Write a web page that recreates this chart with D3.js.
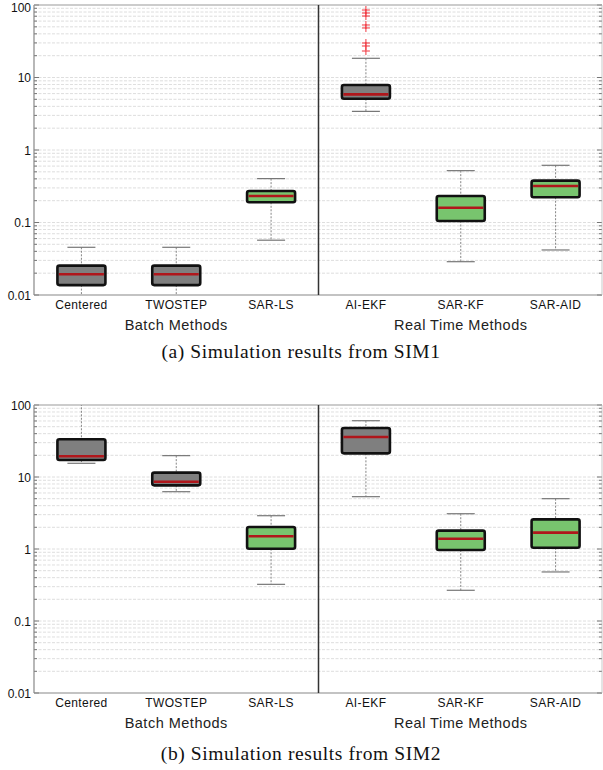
<!DOCTYPE html>
<html>
<head>
<meta charset="utf-8">
<script src="https://cdn.jsdelivr.net/npm/d3@7"></script>
<style>
  html, body { margin: 0; padding: 0; background: #fff; }
  svg { display: block; }
</style>
</head>
<body>
<svg id="chart" width="603" height="770"></svg>
<script>
// Methods, grouped into batch and real-time estimators
const categories = ["Centered", "TWOSTEP", "SAR-LS", "AI-EKF", "SAR-KF", "SAR-AID"];
const groups = ["Batch Methods", "Real Time Methods"];
const groupOf = [0, 0, 0, 1, 1, 1];
const isSAR = [false, false, true, false, true, true];
const yTicks = [0.01, 0.1, 1, 10, 100];
const yTickLabels = ["0.01", "0.1", "1", "10", "100"];

// SIM1 box statistics per method
const sim1Low    = [0.008, 0.008, 0.057, 3.41, 0.0288, 0.0418];
const sim1Q1     = [0.0137, 0.0137, 0.19, 5.1, 0.105, 0.223];
const sim1Median = [0.0193, 0.0193, 0.232, 5.86, 0.16, 0.319];
const sim1Q3     = [0.0254, 0.0254, 0.272, 7.88, 0.232, 0.378];
const sim1High   = [0.0455, 0.0455, 0.403, 18.4, 0.519, 0.615];
// SIM1 outliers (AI-EKF only)
const sim1OutlierCat = ["AI-EKF", "AI-EKF", "AI-EKF", "AI-EKF", "AI-EKF", "AI-EKF", "AI-EKF", "AI-EKF"];
const sim1OutlierVal = [85.3, 77.5, 70.5, 53, 48.2, 29.9, 27.2, 23.2];

// SIM2 box statistics per method
const sim2Low    = [15.5, 6.25, 0.323, 5.33, 0.267, 0.48];
const sim2Q1     = [17.2, 7.66, 1.01, 21.3, 0.97, 1.04];
const sim2Median = [19.4, 8.6, 1.5, 36, 1.39, 1.69];
const sim2Q3     = [33.4, 11.5, 2.02, 48, 1.8, 2.58];
const sim2High   = [130, 19.8, 2.9, 60.5, 3.09, 5.0];
const sim2OutlierCat = [];
const sim2OutlierVal = [];

const captions = ["(a) Simulation results from SIM1", "(b) Simulation results from SIM2"];

const svg = d3.select("#chart");
const left = 34, right = 602;
const sansFont = "'Liberation Sans', Arial, Helvetica, sans-serif";
const serifFont = "'Liberation Serif', 'Times New Roman', serif";

const x = d3.scaleBand().domain(categories).range([left, right + 1]).padding(0);
const boxW = 48, capW = 28;

function buildStats(low, q1, med, q3, high) {
  return categories.map((c, i) => ({
    cat: c, low: low[i], q1: q1[i], med: med[i], q3: q3[i], high: high[i],
    sar: isSAR[i]
  }));
}

function drawPanel(idx, top, bottom, stats, outCats, outVals, captionY) {
  const g = svg.append("g");
  const y = d3.scaleLog().domain([0.01, 100]).range([bottom, top]);
  const clipId = "clip" + idx;
  svg.append("clipPath").attr("id", clipId)
    .append("rect").attr("x", left).attr("y", top).attr("width", right - left).attr("height", bottom - top);

  // minor + major grid values
  const gridVals = [];
  [0.01, 0.1, 1, 10].forEach(d => { for (let k = 1; k <= 9; k++) gridVals.push(d * k); });
  gridVals.push(100);

  g.append("g").selectAll("line").data(gridVals.filter(v => v > 0.01 && v < 100)).join("line")
    .attr("x1", left).attr("x2", right)
    .attr("y1", d => y(d)).attr("y2", d => y(d))
    .attr("stroke", "#d6d6d6").attr("stroke-width", 0.8)
    .attr("stroke-dasharray", "3,1.5");

  // left axis ticks (inward)
  const isMajor = v => yTicks.some(t => Math.abs(t - v) / t < 1e-6);
  g.append("g").selectAll("line").data(gridVals).join("line")
    .attr("x1", left).attr("x2", d => left + (isMajor(d) ? 5 : 3))
    .attr("y1", d => y(d)).attr("y2", d => y(d))
    .attr("stroke", "#777").attr("stroke-width", 1);
  // right axis ticks (inward)
  g.append("g").selectAll("line").data(gridVals).join("line")
    .attr("x1", right).attr("x2", d => right - (isMajor(d) ? 5 : 3))
    .attr("y1", d => y(d)).attr("y2", d => y(d))
    .attr("stroke", "#777").attr("stroke-width", 1);

  // tick labels (kept inside the page at the top edge)
  g.append("g").selectAll("text").data(yTicks).join("text")
    .attr("x", left - 3).attr("y", d => Math.max(y(d) + 4.5, 12))
    .attr("text-anchor", "end")
    .attr("font-family", sansFont).attr("font-size", 12)
    .attr("fill", "#111")
    .text((d, i) => yTickLabels[i]);

  // frame
  g.append("line").attr("x1", left).attr("x2", left).attr("y1", top).attr("y2", bottom)
    .attr("stroke", "#888").attr("stroke-width", 1.2);
  g.append("line").attr("x1", left).attr("x2", right).attr("y1", bottom).attr("y2", bottom)
    .attr("stroke", "#888").attr("stroke-width", 1.2);
  g.append("line").attr("x1", left).attr("x2", right).attr("y1", top).attr("y2", top)
    .attr("stroke", "#999").attr("stroke-width", 1.2);
  g.append("line").attr("x1", right).attr("x2", right).attr("y1", top).attr("y2", bottom)
    .attr("stroke", "#bbb").attr("stroke-width", 0.8);

  // separator between batch and real-time methods
  const sepX = x(categories[3]);
  g.append("line").attr("x1", sepX).attr("x2", sepX).attr("y1", top).attr("y2", bottom)
    .attr("stroke", "#333").attr("stroke-width", 1.5);

  const boxes = g.append("g").attr("clip-path", `url(#${clipId})`)
    .selectAll("g").data(stats).join("g")
    .attr("transform", d => `translate(${x(d.cat) + x.bandwidth() / 2},0)`);

  // whiskers
  boxes.append("line").attr("x1", 0).attr("x2", 0)
    .attr("y1", d => y(d.high)).attr("y2", d => y(d.q3))
    .attr("stroke", "#777").attr("stroke-width", 0.9).attr("stroke-dasharray", "2,1.5");
  boxes.append("line").attr("x1", 0).attr("x2", 0)
    .attr("y1", d => y(d.q1)).attr("y2", d => y(d.low))
    .attr("stroke", "#777").attr("stroke-width", 0.9).attr("stroke-dasharray", "2,1.5");
  // caps
  boxes.append("line").attr("x1", -capW / 2).attr("x2", capW / 2)
    .attr("y1", d => y(d.high)).attr("y2", d => y(d.high))
    .attr("stroke", "#777").attr("stroke-width", 1.2);
  boxes.append("line").attr("x1", -capW / 2).attr("x2", capW / 2)
    .attr("y1", d => y(d.low)).attr("y2", d => y(d.low))
    .attr("stroke", "#777").attr("stroke-width", 1.2);

  // boxes
  boxes.append("rect")
    .attr("x", -boxW / 2).attr("width", boxW)
    .attr("y", d => y(d.q3)).attr("height", d => y(d.q1) - y(d.q3))
    .attr("rx", 2).attr("ry", 2)
    .attr("fill", d => d.sar ? "#78c46e" : "#7f7f7f")
    .attr("stroke", "#111").attr("stroke-width", 2.6);
  // medians
  boxes.append("line").attr("x1", -boxW / 2 + 1.5).attr("x2", boxW / 2 - 1.5)
    .attr("y1", d => y(d.med)).attr("y2", d => y(d.med))
    .attr("stroke", "#b0161b").attr("stroke-width", 2.6);

  // outliers
  const outs = outVals.map((v, i) => ({ cat: outCats[i], v }));
  const og = g.append("g").attr("clip-path", `url(#${clipId})`);
  outs.forEach(o => {
    const cx = x(o.cat) + x.bandwidth() / 2, cy = y(o.v);
    og.append("path")
      .attr("d", `M${cx - 4},${cy}H${cx + 4}M${cx},${cy - 4}V${cy + 4}`)
      .attr("stroke", "#f0353d").attr("stroke-width", 1).attr("fill", "none");
  });

  // category labels
  g.append("g").selectAll("text").data(categories).join("text")
    .attr("x", d => x(d) + x.bandwidth() / 2).attr("y", bottom + 14)
    .attr("text-anchor", "middle")
    .attr("font-family", sansFont).attr("font-size", 12).attr("letter-spacing", 0.4)
    .attr("fill", "#111")
    .text(d => d);

  // group labels
  groups.forEach((gl, gi) => {
    const cats = categories.filter((c, i) => groupOf[i] === gi);
    const cx = (x(cats[0]) + x(cats[cats.length - 1]) + x.bandwidth()) / 2;
    g.append("text").attr("x", cx).attr("y", bottom + 35)
      .attr("text-anchor", "middle")
      .attr("font-family", sansFont).attr("font-size", 14.5).attr("letter-spacing", 0.5)
      .attr("fill", "#222")
      .text(gl);
  });

  // caption
  svg.append("text").attr("x", 301).attr("y", captionY)
    .attr("text-anchor", "middle")
    .attr("font-family", serifFont).attr("font-size", 19.5).attr("letter-spacing", 0.6)
    .attr("fill", "#111")
    .text(captions[idx]);
}

drawPanel(0, 5, 295, buildStats(sim1Low, sim1Q1, sim1Median, sim1Q3, sim1High),
  sim1OutlierCat, sim1OutlierVal, 358);
drawPanel(1, 405, 693, buildStats(sim2Low, sim2Q1, sim2Median, sim2Q3, sim2High),
  sim2OutlierCat, sim2OutlierVal, 760);
</script>
</body>
</html>
